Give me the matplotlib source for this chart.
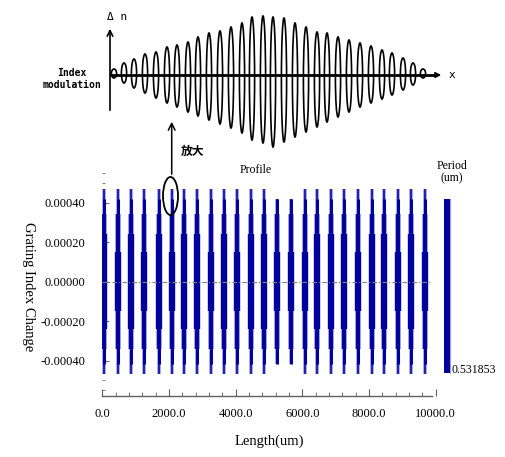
import matplotlib
matplotlib.use("Agg")
import matplotlib.pyplot as plt
from matplotlib.patches import Ellipse
from matplotlib.ticker import FixedLocator, MultipleLocator
import numpy as np

# ---------------- data ----------------
# grating profile: cluster positions (um), tip half-height, core half-height
cluster_pos = [50, 480, 850, 1250, 1700, 2080, 2460, 2850, 3260, 3650, 4050, 4450, 4860,
               5230, 5660, 6080, 6450, 6860, 7260, 7680, 8100, 8460, 8860, 9260, 9680]
cluster_tip = [0.00047] * 13 + [0.00042, 0.00042] + [0.00047] * 10
cluster_body = [0.00042] * 25
cluster_mid = [0.00034] * 25
cluster_core = [0.00024, 0.00015, 0.00024, 0.00015, 0.00024, 0.00015, 0.00024, 0.00024,
                0.00015, 0.00024, 0.00015, 0.00024, 0.00024, 0.00015, 0.00015, 0.00015,
                0.00024, 0.00024, 0.00024, 0.00015, 0.00024, 0.00024, 0.00015, 0.00024,
                0.00015]
x_ticks = [0, 2000, 4000, 6000, 8000, 10000]
x_ticklabels = ["0.0", "2000.0", "4000.0", "6000.0", "8000.0", "10000.0"]
y_ticks = [-0.0004, -0.0002, 0.0, 0.0002, 0.0004]
y_ticklabels = ["-0.00040", "-0.00020", "0.00000", "0.00020", "0.00040"]
period_label = "0.531853"

# schematic (index modulation): loop positions and upper/lower extents
osc_x = [4, 14, 24, 35, 46, 57, 67, 78, 88, 99, 110, 121, 132, 142, 153, 163,
         174, 185, 196, 207, 217, 228, 239, 250, 261, 272, 282, 293, 303, 313]
osc_top = [6, 12, 16, 21, 23, 28, 30, 33, 38, 42, 44, 48, 52, 58, 59, 58,
           57, 52, 48, 43, 42, 38, 35, 32, 29, 25, 22, 17, 12, 6]
osc_bot = [-3, -8, -13, -18, -23, -28, -32, -37, -41, -45, -49, -53, -58, -65, -68, -72,
           -67, -62, -57, -52, -47, -42, -37, -32, -28, -24, -20, -15, -10, -3]

navy = "#00009c"
light = "#9a9ae0"
serif = ["Liberation Serif", "DejaVu Serif"]

fig = plt.figure(figsize=(5.05, 4.57), dpi=100)
W, H = 505, 457

def fx(px):
    return px / W

def fy(py):
    return 1 - py / H

# ---------------- main profile axes ----------------
ax = fig.add_axes([fx(102.3), fy(395.7), 333.3 / W, 222.8 / H])
ax.set_xlim(0, 10000)
ax.set_ylim(-0.000578, 0.00055)

pos = np.array(cluster_pos)
tip = np.array(cluster_tip)
body = np.array(cluster_body)
mid = np.array(cluster_mid)
core = np.array(cluster_core)

ax.vlines(pos, -tip, tip, color=light, lw=2.6, zorder=2)
ax.vlines(pos, -tip, tip, color=navy, lw=1.1, zorder=3)
ax.vlines(pos, -body, body, color=navy, lw=2.2, zorder=3)
ax.vlines(pos, -mid, mid, color=light, lw=4.2, zorder=3)
ax.vlines(pos, -mid, mid, color=navy, lw=2.8, zorder=4)
ax.vlines(pos, -core, core, color=navy, lw=4.6, zorder=5)

ax.plot([0, 9900], [0, 0], color="#808080", lw=0.8, ls=(0, (4, 2, 1, 2)), zorder=6)

for s in ["top", "right", "left"]:
    ax.spines[s].set_visible(False)
ax.spines["bottom"].set_bounds(0, 9900)
ax.spines["bottom"].set_color("#606060")
ax.spines["bottom"].set_linewidth(1.0)

ax.xaxis.set_major_locator(FixedLocator(x_ticks))
ax.set_xticklabels(x_ticklabels, fontsize=9, family=serif)
ax.xaxis.set_minor_locator(MultipleLocator(400))
ax.tick_params(axis="x", which="major", direction="in", length=5, color="#606060", pad=9)
ax.tick_params(axis="x", which="minor", direction="in", length=3, color="#606060")

ax.yaxis.set_major_locator(FixedLocator(y_ticks))
ax.set_yticklabels(y_ticklabels, fontsize=9, family=serif)
ax.yaxis.set_minor_locator(MultipleLocator(0.00005))
ax.tick_params(axis="y", which="major", direction="in", length=5, color="#707070", pad=12)
ax.tick_params(axis="y", which="minor", direction="in", length=2.5, color="#707070")

ax.set_xlabel("Length(um)", fontsize=10.5, family=serif, labelpad=10)
ax.set_ylabel("Grating Index Change", fontsize=10.5, family=serif, rotation=270,
              labelpad=12, va="bottom")
ax.yaxis.set_label_coords(-0.24, 0.49)

fig.text(fx(256), fy(170), "Profile", fontsize=8.5, family=serif, ha="center", va="center")

# ---------------- period bar ----------------
cb = fig.add_axes([fx(444.3), fy(373), 5.5 / W, 174 / H])
cb.set_facecolor(navy)
for s in cb.spines.values():
    s.set_visible(False)
cb.spines["right"].set_visible(True)
cb.spines["right"].set_color(light)
cb.set_xticks([])
cb.set_yticks([])
fig.text(fx(452), fy(172), "Period\n(um)", fontsize=8.5, family=serif, ha="center",
         va="center", linespacing=1.0)
fig.text(fx(451), fy(370), period_label, fontsize=8.5, family=serif, ha="left", va="center")

# ---------------- schematic ----------------
sc = fig.add_axes([fx(110), fy(150), 335 / W, 135 / H])
sc.set_xlim(0, 335)
sc.set_ylim(-75, 60)
sc.axis("off")
for xc, t, b in zip(osc_x, osc_top, osc_bot):
    sc.add_patch(Ellipse(((xc), (t + b) / 2), 5.2, (t - b), fill=False,
                         ec="black", lw=1.2))
sc.plot([0, 326], [0, 0], color="black", lw=2.0)
sc.annotate("", xy=(334, 0), xytext=(322, 0),
            arrowprops=dict(arrowstyle="-|>", color="black", lw=1.2, mutation_scale=8),
            annotation_clip=False)
sc.annotate("", xy=(0, 49), xytext=(0, -38),
            arrowprops=dict(arrowstyle="->", color="black", lw=1.2, mutation_scale=10),
            annotation_clip=False)
sc.text(342, 0, "x", fontsize=8, family="DejaVu Sans Mono", va="center", ha="center",
        clip_on=False)
sc.text(7, 58, "Δ n", fontsize=8, family="DejaVu Sans Mono", va="center", ha="center",
        clip_on=False)
fig.text(fx(72), fy(79), "Index\nmodulation", fontsize=7, family="DejaVu Sans Mono",
         fontweight="bold", ha="center", va="center", linespacing=1.2)

# ---------------- overlay: magnify arrow and ellipse ----------------
ov = fig.add_axes([0, 0, 1, 1], zorder=10)
ov.set_xlim(0, W)
ov.set_ylim(H, 0)
ov.axis("off")
ov.patch.set_alpha(0)
ov.annotate("", xy=(171.7, 119), xytext=(171.7, 177),
            arrowprops=dict(arrowstyle="->", color="black", lw=1.1, mutation_scale=12))
ov.add_patch(Ellipse((170.5, 196), 15, 38, fill=False, ec="black", lw=1.3))
ov.text(193, 151, "放大", fontsize=8.5, family=["Noto Sans CJK SC", "DejaVu Sans"],
        fontweight="bold", ha="center", va="center")

fig.savefig("out.png", dpi=100)
